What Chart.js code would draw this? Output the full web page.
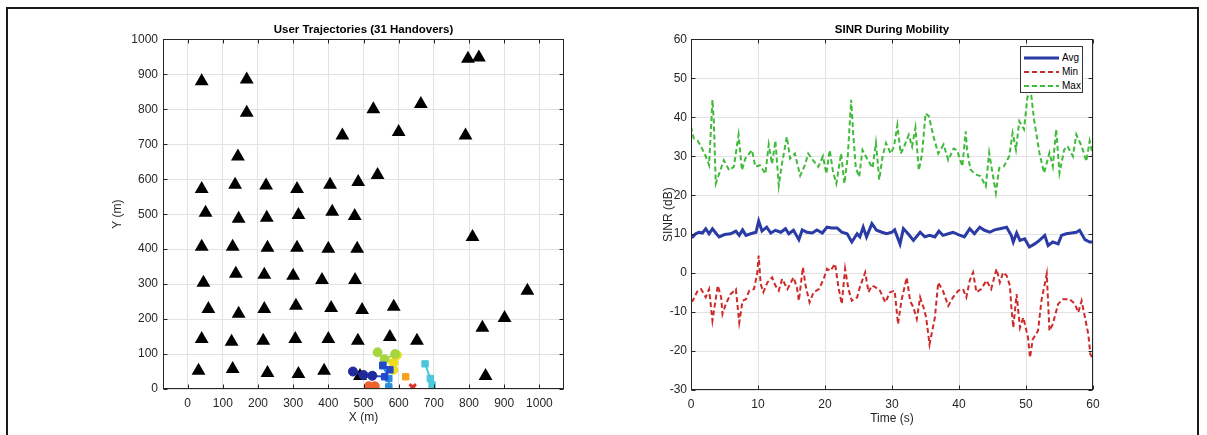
<!DOCTYPE html>
<html>
<head>
<meta charset="utf-8">
<script src="https://cdn.jsdelivr.net/npm/chart.js@4.4.1/dist/chart.umd.min.js"></script>
<style>
html,body{margin:0;padding:0;background:#fff;width:1207px;height:435px;overflow:hidden;}
#frame{position:absolute;left:6px;top:7px;width:1193px;height:440px;border:2px solid #1a1a1a;box-sizing:border-box;}
#c1{position:absolute;left:0;top:0;}
#c2{position:absolute;left:600px;top:0;}
#legend{position:absolute;left:1020px;top:46px;width:63px;height:47px;border:1px solid #333;background:#fff;box-sizing:border-box;font:10px "Liberation Sans",Arial,sans-serif;color:#000;}
#legend .row{position:absolute;left:0;height:14px;width:62px;}
#legend svg{position:absolute;left:3px;top:0;}
#legend span{position:absolute;left:41px;top:1px;line-height:12px;}
</style>
</head>
<body>
<div id="frame"></div>
<canvas id="c1" width="600" height="435"></canvas>
<canvas id="c2" width="607" height="435"></canvas>
<div id="legend"></div>
<script>
// ---------- data: left plot ----------
const bsX = [40,168,168,797,828,528,663,440,600,790,143,540,40,135,223,311,405,485,51,145,225,315,411,475,810,40,128,227,311,400,482,45,137,218,300,382,476,966,59,145,218,308,408,496,586,901,838,40,125,215,306,400,484,575,652,31,128,227,315,388,490,847];
const bsY = [880,885,790,945,948,800,815,725,735,725,665,612,572,584,582,572,584,592,504,487,490,498,507,495,435,407,407,404,404,401,401,304,330,327,324,312,312,281,229,215,229,238,232,226,235,203,175,143,135,138,143,143,138,149,138,52,57,46,43,52,37,37];

const trajX = [
  [470,500,525],
  [525,560,575,555],
  [555,572,572],
  [675,690,695],
  [540,560,590],
  [595,585,585],
  [620],
  [515,532],
  [640]
];
const trajY = [
  [50,40,38],
  [38,35,55,68],
  [66,30,6],
  [72,30,12],
  [105,85,100],
  [97,75,55],
  [35],
  [8,8],
  [5]
];
const trajColors = ['#1f2a9c','#2348c8','#2a8ee0','#4cc6dc','#a6d63e','#eedc1c','#f6a21e','#f0622a','#e0302a'];
const trajMarkers = ['circle','rect','rect','rect','circle','circle','rect','circle','crossRot'];

const xTicksL = [0,100,200,300,400,500,600,700,800,900,1000];
const yTicksL = [0,100,200,300,400,500,600,700,800,900,1000];

// ---------- data: right plot ----------
const avgSeries = [[0,9.5],[0.25,9.3],[0.7,10.1],[1.2,10.5],[1.7,10.3],[2.2,11.4],[2.7,10.1],[3.2,11.4],[3.7,10.3],[4.2,9.3],[5,9.9],[5.9,10.1],[6.7,10.8],[7.2,9.7],[7.7,11.1],[8.2,9.7],[8.9,10.1],[9.7,10.5],[10.1,13.4],[10.6,10.8],[11.3,11.8],[11.9,10.3],[12.6,11],[13.4,10.5],[14.1,11.4],[14.6,10.1],[15.3,11],[16.1,8.6],[16.6,11.1],[17.3,10.5],[18.1,10.3],[18.8,11.1],[19.6,10.3],[20.3,11.8],[21,11.6],[21.8,11.6],[22.5,10.5],[23.3,10.1],[24,8],[24.8,10.1],[25.2,9.3],[25.7,11.8],[26.2,9.3],[27,12.7],[27.7,11],[28.5,10.5],[29.2,10.1],[30,10.5],[30.4,11.1],[31.2,7.5],[31.7,11.4],[32.4,10.1],[33.2,8.4],[34.2,10.5],[34.9,9.3],[35.6,9.7],[36.4,9.3],[37,10.8],[37.6,9.7],[38.4,10.1],[39.1,10.5],[39.9,9.9],[40.8,9.3],[41.6,11.4],[42.3,10.1],[43.1,11.8],[43.8,11],[44.6,10.5],[45.3,11.1],[46.1,11.4],[47.1,11.8],[47.8,9.7],[48.1,8],[48.6,10.3],[49.1,8.4],[49.8,8.8],[50.5,6.7],[51.3,7.5],[52,8.4],[52.8,9.7],[53.3,7.1],[54,8],[54.8,7.5],[55.3,9.7],[56,10.1],[56.8,10.3],[57.5,10.5],[58,11],[58.8,8.6],[59.5,8],[60,8]];

const minSeries = [[0,-7],[0.25,-7.1],[1,-4.5],[1.5,-4.1],[2.2,-6.2],[2.7,-4.1],[3.2,-12.2],[3.5,-8.8],[4,-3.2],[4.5,-6.2],[4.7,-10.5],[5.2,-7.9],[5.9,-5.4],[6.7,-4.1],[7.2,-12.7],[7.7,-7.1],[8.2,-6.7],[8.7,-4.5],[9.4,-4.1],[9.9,0.2],[10.1,4.5],[10.4,-2.8],[10.8,-4.9],[11.4,-2.4],[12.1,-1.1],[12.6,-3.2],[13.1,-4.5],[13.6,-1.5],[14.4,-4.1],[14.9,-2.4],[15.3,-1.1],[15.8,-3.6],[16.1,-7.1],[16.7,1.5],[17.1,-3.2],[17.7,-7.5],[18.3,-4.9],[19.1,-4.1],[19.8,-1.5],[20.3,1.1],[20.8,0.6],[21.5,2.4],[22,-3.6],[22.5,-7.9],[23,1.1],[23.5,-4.1],[24,-7.1],[24.8,-6.2],[25.2,-3.6],[26,0.2],[26.5,-4.9],[27,-3.2],[27.5,-3.6],[28.2,-4.5],[29,-7.5],[29.7,-4.9],[30.4,-4.5],[30.9,-13.1],[31.4,-7.1],[32.2,-1.1],[32.7,-7.1],[33.2,-8.8],[33.7,-11.8],[34.2,-6.2],[34.7,-8.8],[35.1,-11.4],[35.6,-18.3],[36.4,-11.4],[36.9,-2.4],[37.6,-4.5],[38.4,-8.4],[39.1,-6.2],[39.9,-4.5],[40.6,-4.1],[41.1,-6.2],[41.6,-1.9],[42.1,0.2],[42.6,-4.9],[43.3,-4.1],[44.1,-1.9],[44.8,-4.1],[45.6,1.1],[46.1,-2.4],[46.6,0.2],[47.1,-0.6],[47.6,-3.2],[47.8,-8.4],[48.1,-14],[48.6,-5.4],[49.1,-14],[49.6,-11.4],[50.3,-16.5],[50.6,-21.7],[51,-17],[51.8,-14.8],[52.3,-7.1],[52.8,-2.8],[53.1,-0.2],[53.5,-14.8],[54,-13.1],[54.8,-7.9],[55.5,-6.7],[56.5,-6.7],[57.3,-7.9],[57.8,-10.1],[58.3,-7.1],[58.9,-12.2],[59.3,-15.7],[59.6,-20.8],[60,-22]];

const maxSeries = [[0,37.6],[0.4,34.6],[1,34],[1.5,32.5],[2.2,30],[2.7,27.7],[3.2,44.5],[3.4,39.3],[3.7,23],[4.2,25.5],[4.9,29],[5.7,26.4],[6.4,27.3],[7.1,35.5],[7.6,26.4],[8.1,29.4],[9.1,31.6],[9.6,27.3],[10.3,27.7],[11.1,25.5],[11.6,33],[12.1,28],[12.6,34],[13.1,22.5],[13.5,27.3],[14.3,35],[14.8,29.4],[15.5,30.7],[16.3,25],[17,27.7],[17.5,30.7],[18.2,29],[19,27.3],[19.7,30],[20.2,25.5],[20.7,31.6],[21.2,26],[21.7,23],[22.4,30.7],[22.9,23],[23.4,30],[23.9,44.5],[24.2,36],[24.6,27],[25.1,24.7],[25.6,31.6],[26.4,29],[27.1,27],[27.6,33.4],[28.1,24],[28.6,30],[29.1,33.4],[29.8,30.7],[30.3,32.5],[30.8,38],[31.3,30.7],[31.8,32.5],[32.5,35.5],[33,32.5],[33.5,37.3],[34,26.4],[34.5,30.7],[35,41],[35.5,40.3],[36.2,35],[36.9,30.7],[37.7,33],[38.4,29],[39.2,32],[39.7,31.6],[40.5,27.4],[41,36.4],[41.2,31.7],[41.7,26.6],[42.5,25.3],[43.2,24.9],[44,22.3],[44.5,30.9],[45,25.7],[45.5,20.6],[46,27],[46.7,27.4],[47.5,30],[48,36],[48.5,31.7],[49,39],[49.7,36.9],[50.2,45],[50.7,47],[51.2,39.4],[52,30.9],[52.7,25.7],[53.5,30.9],[54,27.4],[54.5,36.9],[55,25.7],[55.7,31.7],[56.2,32.6],[57,30],[57.5,35.6],[58.3,32.6],[59,28.7],[59.5,33.9],[60,30]];

const xTicksR = [0,10,20,30,40,50,60];
const yTicksR = [-30,-20,-10,0,10,20,30,40,50,60];
const seriesNames = ['Avg','Min','Max'];

// ---------- styling ----------
const FONT = '"Liberation Sans", Arial, Helvetica, sans-serif';
const AXC = '#262626';
const GRIDC = '#e2e2e2';

const boxPlugin = {
  id: 'matBox',
  afterDraw(chart) {
    const {ctx, chartArea: a, scales} = chart;
    ctx.save();
    ctx.strokeStyle = AXC;
    ctx.lineWidth = 1;
    const L = Math.round(a.left) + 0.5, R = Math.round(a.right) - 0.5;
    const T = Math.round(a.top) + 0.5, B = Math.round(a.bottom) - 0.5;
    ctx.strokeRect(L, T, R - L, B - T);
    ctx.beginPath();
    scales.x.ticks.forEach(t => {
      const p = Math.round(scales.x.getPixelForValue(t.value)) + 0.5;
      ctx.moveTo(p, B); ctx.lineTo(p, B - 4);
      ctx.moveTo(p, T); ctx.lineTo(p, T + 4);
    });
    scales.y.ticks.forEach(t => {
      const p = Math.round(scales.y.getPixelForValue(t.value)) + 0.5;
      ctx.moveTo(L, p); ctx.lineTo(L + 4, p);
      ctx.moveTo(R, p); ctx.lineTo(R - 4, p);
    });
    ctx.stroke();
    ctx.restore();
  }
};

function axis(min, max, tickVals, fit, titleText, titlePad, tickPad, isX) {
  return {
    type: 'linear', min, max,
    afterBuildTicks: s => { s.ticks = tickVals.map(v => ({value: v})); },
    afterFit: s => { if (isX) s.height = fit; else s.width = fit; },
    grid: {color: GRIDC, drawTicks: false, lineWidth: 1},
    border: {display: false},
    ticks: {color: AXC, font: {family: FONT, size: 12}, padding: tickPad, maxRotation: 0, autoSkip: false,
      callback: v => String(v)},
    title: {display: true, text: titleText, color: AXC, font: {family: FONT, size: 12}, padding: titlePad}
  };
}

// ---------- left chart ----------
const leftSets = trajX.map((xs, i) => ({
  type: 'scatter',
  data: xs.map((x, j) => ({x, y: trajY[i][j]})),
  showLine: true,
  borderColor: trajColors[i],
  backgroundColor: trajColors[i],
  borderWidth: 2,
  pointStyle: trajMarkers[i],
  pointRadius: 4.5,
  pointBorderWidth: trajMarkers[i] === 'crossRot' ? 3 : 1,
  pointBorderColor: trajColors[i],
  order: 1
}));
leftSets.push({
  type: 'scatter',
  data: bsX.map((x, i) => ({x, y: bsY[i]})),
  pointStyle: 'triangle',
  pointRadius: 8,
  backgroundColor: '#000',
  borderColor: '#000',
  borderWidth: 0,
  order: 2
});

new Chart(document.getElementById('c1'), {
  type: 'scatter',
  data: {datasets: leftSets},
  options: {
    responsive: false, animation: false, events: [],
    layout: {padding: {left: 110, right: 36, top: 0, bottom: 0}},
    plugins: {
      legend: {display: false}, tooltip: {enabled: false},
      title: {display: true, text: 'User Trajectories (31 Handovers)', fullSize: false, color: '#000',
        font: {family: FONT, size: 11.5, weight: 'bold'}, padding: {top: 23, bottom: 2.6}}
    },
    scales: {
      x: axis(-70, 1070, xTicksL, 46, 'X (m)', {top: 0, bottom: 10}, 7, true),
      y: axis(0, 1000, yTicksL, 53, 'Y (m)', {top: 0, bottom: 0}, 5, false)
    }
  },
  plugins: [boxPlugin]
});

// ---------- right chart ----------
const toPts = arr => arr.map(p => ({x: p[0], y: p[1]}));
new Chart(document.getElementById('c2'), {
  type: 'line',
  data: {datasets: [
    {label: seriesNames[0], data: toPts(avgSeries), borderColor: '#2a3ba6', borderWidth: 3, pointRadius: 0, tension: 0},
    {label: seriesNames[1], data: toPts(minSeries), borderColor: '#cf2a2a', borderWidth: 2, borderDash: [5, 3], pointRadius: 0, tension: 0},
    {label: seriesNames[2], data: toPts(maxSeries), borderColor: '#3fba3a', borderWidth: 2, borderDash: [5, 3], pointRadius: 0, tension: 0}
  ]},
  options: {
    responsive: false, animation: false, events: [],
    parsing: true,
    layout: {padding: {left: 61, right: 114, top: 0, bottom: 0}},
    plugins: {
      legend: {display: false}, tooltip: {enabled: false},
      title: {display: true, text: 'SINR During Mobility', fullSize: false, color: '#000',
        font: {family: FONT, size: 11.5, weight: 'bold'}, padding: {top: 23, bottom: 2.6}}
    },
    scales: {
      x: axis(0, 60, xTicksR, 45, 'Time (s)', {top: 0, bottom: 9}, 7, true),
      y: axis(-30, 60, yTicksR, 30, 'SINR (dB)', {top: 0, bottom: 0}, 4, false)
    }
  },
  plugins: [boxPlugin]
});

// ---------- legend (HTML text) ----------
const legendStyles = [
  {color: '#2a3ba6', w: 3, dash: ''},
  {color: '#cf2a2a', w: 2, dash: '5,3'},
  {color: '#3fba3a', w: 2, dash: '5,3'}
];
const lg = document.getElementById('legend');
const rowTops = [4, 18, 32];
seriesNames.forEach((n, i) => {
  const st = legendStyles[i];
  const row = document.createElement('div');
  row.className = 'row';
  row.style.top = rowTops[i] + 'px';
  row.innerHTML = '<svg width="36" height="14"><line x1="0" y1="7" x2="35" y2="7" stroke="' + st.color +
    '" stroke-width="' + st.w + '"' + (st.dash ? ' stroke-dasharray="' + st.dash + '"' : '') + '/></svg><span>' + n + '</span>';
  lg.appendChild(row);
});
</script>
</body>
</html>
